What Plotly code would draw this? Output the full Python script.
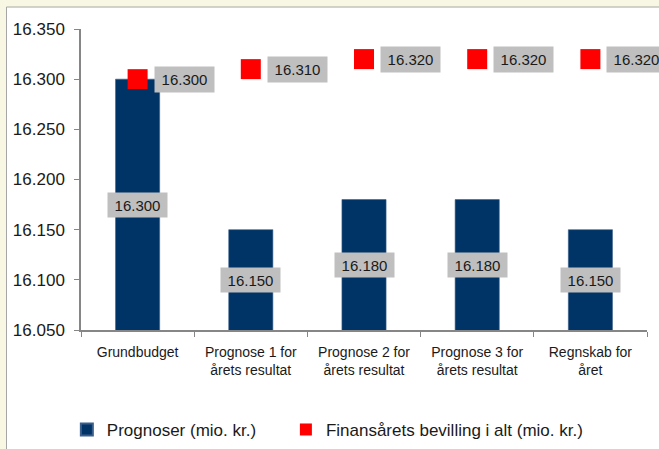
import plotly.graph_objects as go

categories = ["Grundbudget", "Prognose 1 for<br>årets resultat", "Prognose 2 for<br>årets resultat",
              "Prognose 3 for<br>årets resultat", "Regnskab for<br>året"]
prognoser = [16300, 16150, 16180, 16180, 16150]
bevilling = [16300, 16310, 16320, 16320, 16320]
y_ticks = [16050, 16100, 16150, 16200, 16250, 16300, 16350]

Y_MIN, Y_MAX = 16050, 16350
NAVY = "#003366"
RED = "#FF0000"
GRAY_BOX = "#BFBFBF"
AXIS = "#868686"
TXT = "#1a1a1a"
FONT = "Liberation Sans, Arial, sans-serif"

fig = go.Figure()
fig.add_trace(go.Bar(
    x=categories, y=prognoser, name="Prognoser (mio. kr.)",
    marker=dict(color=NAVY, line=dict(color="#3a5f8a", width=0.6)),
    width=0.39, hoverinfo="skip", legend="legend",
))
fig.add_trace(go.Scatter(
    x=categories, y=bevilling, name="Finansårets bevilling i alt (mio. kr.)",
    mode="markers", marker=dict(symbol="square", size=20, color=RED),
    hoverinfo="skip", legend="legend2",
))

def fmt(v):
    return f"{v:,}".replace(",", ".")

annotations = []
for c, v in zip(categories, prognoser):
    annotations.append(dict(
        x=c, y=(Y_MIN + v) / 2, xref="x", yref="y", text=fmt(v), showarrow=False,
        font=dict(family=FONT, size=15, color=TXT), bgcolor=GRAY_BOX,
        width=59, height=24, borderpad=0, xanchor="center", yanchor="middle",
    ))
for c, v in zip(categories, bevilling):
    annotations.append(dict(
        x=c, y=v, xref="x", yref="y", text=fmt(v), showarrow=False,
        font=dict(family=FONT, size=15, color=TXT), bgcolor=GRAY_BOX,
        width=59, height=25, borderpad=0, xanchor="left", yanchor="middle", xshift=16,
    ))

legend_common = dict(orientation="h", y=-0.332, xanchor="left", yanchor="middle",
                     font=dict(family=FONT, size=17, color=TXT), bgcolor="rgba(0,0,0,0)",
                     itemsizing="constant")

fig.update_layout(
    width=659, height=449,
    margin=dict(l=81, r=12, t=29, b=119, autoexpand=False),
    paper_bgcolor="#F7F7E3", plot_bgcolor="white",
    separators=",.",
    font=dict(family=FONT, color=TXT),
    showlegend=True,
    legend=dict(x=-0.025, **legend_common),
    legend2=dict(x=0.362, **legend_common),
    annotations=annotations,
    shapes=[dict(type="rect", xref="paper", yref="paper",
                 x0=-0.1316, x1=1.2, y0=-0.5, y1=1.073,
                 fillcolor="white", line=dict(color="#A6A6A6", width=1), layer="below")],
    xaxis=dict(type="category", showline=True, linecolor=AXIS, linewidth=1.5,
               ticks="outside", tickson="boundaries", ticklen=5, tickcolor=AXIS,
               tickfont=dict(family=FONT, size=14, color=TXT), showgrid=False,
               range=[-0.5, 4.5], ticklabelstandoff=8, automargin=False),
    yaxis=dict(range=[Y_MIN, Y_MAX], tickvals=y_ticks, tickformat=",d",
               showline=True, linecolor=AXIS, linewidth=1.5, ticks="outside",
               ticklen=5, tickcolor=AXIS, showgrid=False, zeroline=False,
               tickfont=dict(family=FONT, size=17, color=TXT), ticklabelstandoff=6,
               automargin=False),
    bargap=0.6,
)

fig.write_html("out.html", config={"displayModeBar": False},
               post_script="document.body.style.margin='0';document.body.style.background='#F7F7E3';")
